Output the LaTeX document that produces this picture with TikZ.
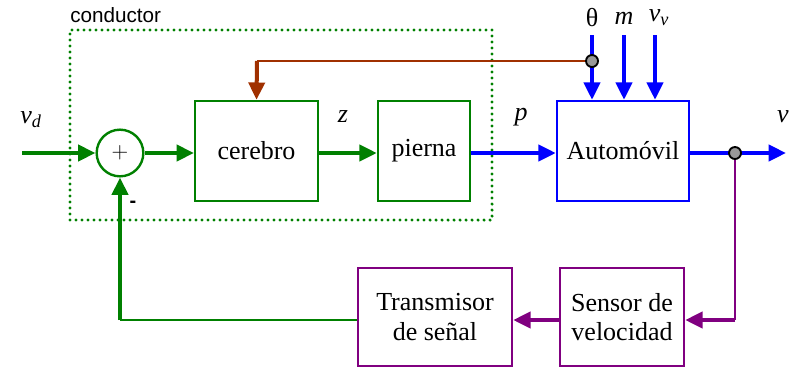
\documentclass[tikz,border=0pt]{standalone}
\usepackage{fontspec}
\setmainfont{Liberation Serif}
\newfontfamily\sansfont{Liberation Sans}
\usetikzlibrary{arrows.meta}
\definecolor{verde}{RGB}{0,128,0}
\definecolor{azul}{RGB}{0,0,255}
\definecolor{cafe}{RGB}{160,48,0}
\definecolor{morado}{RGB}{128,0,128}

\begin{document}
\begin{tikzpicture}[x=0.75pt, y=-0.75pt, >={Triangle[length=13pt, width=12pt]},
		bloque/.style={rectangle, draw=verde, line width=1.8pt, minimum height=75pt, align=center, inner sep=2pt, font=\fontsize{19.5}{22}\selectfont},
		etiq/.style={font=\fontsize{19.5}{22}\selectfont\itshape, inner sep=1pt},
		punto/.style={circle, draw=black, fill=gray!80, line width=1.4pt, minimum size=9pt, inner sep=0pt},
		senal/.style={line width=3pt}]
		
		\useasboundingbox (0,0) rectangle (795,369);
		
		% Conductor (caja punteada)
		\node[draw=verde, line width=2.6pt, line cap=round, dash pattern=on 0pt off 4.5pt, minimum width=316.5pt, minimum height=142.5pt] (cond) at (281,125) {};
		\node[font=\sansfont\fontsize{15.5}{17}\selectfont, anchor=base west, inner sep=0pt] at (70,22) {conductor};
		
		% Bloques
		\node[circle, draw=verde, line width=1.8pt, minimum size=35pt, inner sep=0pt, font=\fontsize{19}{20}\selectfont] (sum) at (120,153) {$+$};
		\node[bloque, minimum width=92pt] (cer) at (256.5,151) {cerebro};
		\node[bloque, minimum width=69pt] (pie) at (424,151) {pierna};
		\node[bloque, draw=azul, minimum width=99pt] (auto) at (623,151) {Automóvil};
		\node[bloque, draw=morado, minimum width=115.5pt, minimum height=73.5pt] (trans) at (435,317) {Transmisor\\de señal};
		\node[bloque, draw=morado, minimum width=93pt, minimum height=73.5pt] (sens) at (622,317) {Sensor de\\velocidad};
		
		% Etiquetas
		\node[etiq] (vd) at (31,120) {v\textsubscript{d}};
		\node[etiq] at (343,117) {z};
		\node[etiq] at (521,117) {p};
		\node[etiq] at (783,117) {v};
		\node[font=\fontsize{19.5}{22}\selectfont, inner sep=1pt] (th) at (592,18) {θ};
		\node[etiq] (m) at (624,18) {m};
		\node[etiq] (vv) at (659,18) {v\textsubscript{v}};
		\node[font=\sansfont\fontsize{15}{16}\selectfont\bfseries] at (133,204) {-};
		
		% Camino directo
		\coordinate (ent) at (22,153);
		\draw[senal, verde, ->] (ent) -- (sum.west);
		\draw[senal, verde, ->] (sum.east) -- (cer.west |- sum);
		\draw[senal, verde, ->] (cer.east |- sum) -- (pie.west |- sum);
		\draw[senal, azul, ->] (pie.east |- sum) -- (auto.west |- sum);
		\coordinate (sal) at (786,153);
		\draw[senal, azul, ->] (auto.east |- sum) -- (sal);
		
		% Entradas del automovil
		\draw[senal, azul, ->] (592,35) -- (th.south |- auto.north);
		\draw[senal, azul, ->] (624,35) -- (m.south |- auto.north);
		\draw[senal, azul, ->] (655,35) -- (655,0 |- auto.north);
		
		% Retroalimentacion del angulo
		\node[punto] (pth) at (592,61) {};
		\draw[line width=1.8pt, cafe] (pth.west) -- (257,61);
		\draw[senal, cafe, ->] (257,61) -- (cer.north);
		
		% Lazo de velocidad
		\node[punto] (pv) at (735,153) {};
		\draw[line width=1.8pt, morado] (pv.south) -- (735,320);
		\draw[senal, morado, ->] (735,320) -- (sens.east |- 0,320);
		\draw[senal, morado, ->] (sens.west |- 0,320) -- (trans.east |- 0,320);
		\draw[line width=1.8pt, verde] (trans.west |- 0,320) -- (120,320);
		\draw[senal, verde, ->] (120,320) -- (sum.south);
		
	\end{tikzpicture}
\end{document}
